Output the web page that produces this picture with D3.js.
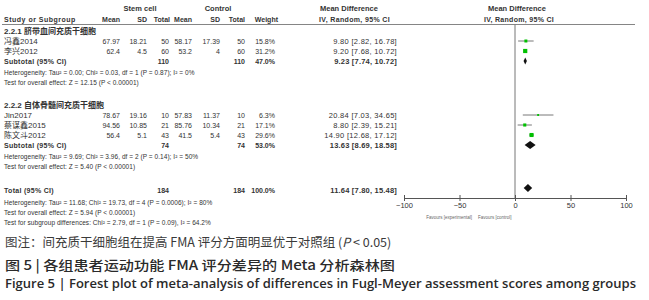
<!DOCTYPE html>
<html>
<head>
<meta charset="utf-8">
<script src="https://cdn.jsdelivr.net/npm/d3@7"></script>
<style>
  body { margin: 0; background: #fff; }
  svg { display: block; }
</style>
</head>
<body>
<svg id="forest" width="649" height="300"></svg>
<script>
// forest plot - FMA scores, stem cell vs control

const studies   = ['冯鑫2014', '李兴2012', 'Jin2017', '蔡谋鑫2015', '陈文斗2012'];
const studyGrp  = [0, 0, 1, 1, 1];
const expMean   = [67.97, 62.4, 78.67, 94.56, 56.4];
const expSD     = [18.21, 4.5, 19.16, 10.85, 5.1];
const expN      = [50, 60, 10, 21, 43];
const ctlMean   = [58.17, 53.2, 57.83, 85.76, 41.5];
const ctlSD     = [17.39, 4, 11.37, 10.34, 5.4];
const ctlN      = [50, 60, 10, 21, 43];
const weights   = [15.8, 31.2, 6.3, 17.1, 29.6];
const md        = [9.80, 9.20, 20.84, 8.80, 14.90];
const mdLo      = [2.82, 7.68, 7.03, 2.39, 12.68];
const mdHi      = [16.78, 10.72, 34.65, 15.21, 17.12];

const subgroups = ['2.2.1 脐带血间充质干细胞', '2.2.2 自体骨髓间充质干细胞'];
const subExpN   = [110, 74];
const subCtlN   = [110, 74];
const subWeight = [47.0, 53.0];
const subMd     = [9.23, 13.63];
const subLo     = [7.74, 8.69];
const subHi     = [10.72, 18.58];
const subHet    = [
  'Heterogeneity: Tau² = 0.00; Chi² = 0.03, df = 1 (P = 0.87); I² = 0%',
  'Heterogeneity: Tau² = 9.69; Chi² = 3.96, df = 2 (P = 0.14); I² = 50%'
];
const subTest   = [
  'Test for overall effect: Z = 12.15 (P < 0.00001)',
  'Test for overall effect: Z = 5.40 (P < 0.00001)'
];

const totalN    = [184, 184];
const totalMd   = [11.64, 7.80, 15.48];
const totalNotes = [
  'Heterogeneity: Tau² = 11.68; Chi² = 19.73, df = 4 (P = 0.0006); I² = 80%',
  'Test for overall effect: Z = 5.94 (P < 0.00001)',
  'Test for subgroup differences: Chi² = 2.79, df = 1 (P = 0.09), I² = 64.2%'
];

const axisTicks = [-100, -50, 0, 50, 100];

const svg = d3.select('#forest');
const txtColor = '#333';
const font = 'Liberation Sans, Arial, sans-serif';

function txt(x, y, s, opts = {}) {
  return svg.append('text')
    .attr('x', x)
    .attr('y', y)
    .attr('font-family', opts.family || font)
    .attr('font-size', opts.size || 7)
    .attr('font-weight', opts.bold ? 'bold' : 'normal')
    .attr('text-anchor', opts.anchor || 'start')
    .attr('fill', opts.color || txtColor)
    .text(s);
}

// column right edges
const col = { name: 4, eMean: 120, eSD: 147, eN: 169, cMean: 192, cSD: 220, cN: 245, w: 275, ci: 397 };

const x = d3.scaleLinear().domain([-100, 100]).range([404, 626]);

// headers
txt(140, 11, 'Stem cell', { bold: true, anchor: 'middle', size: 7.5 });
txt(218, 11, 'Control', { bold: true, anchor: 'middle', size: 7.5 });
txt(320, 11, 'Mean Difference', { bold: true, size: 7.5 });
txt(517, 11, 'Mean Difference', { bold: true, anchor: 'middle', size: 7.5 });

const hy = 22;
const hs = 7;
txt(col.name, hy, 'Study or Subgroup', { bold: true, size: hs }).attr('letter-spacing', 0.5);
txt(col.eMean, hy, 'Mean', { bold: true, anchor: 'end', size: hs });
txt(col.eSD, hy, 'SD', { bold: true, anchor: 'end', size: hs });
txt(170, hy, 'Total', { bold: true, anchor: 'end', size: hs });
txt(col.cMean, hy, 'Mean', { bold: true, anchor: 'end', size: hs });
txt(col.cSD, hy, 'SD', { bold: true, anchor: 'end', size: hs });
txt(col.cN, hy, 'Total', { bold: true, anchor: 'end', size: hs });
txt(278, hy, 'Weight', { bold: true, anchor: 'end', size: hs });
txt(319, hy, 'IV, Random, 95% CI', { bold: true, size: hs }).attr('letter-spacing', 0.35);
txt(519, hy, 'IV, Random, 95% CI', { bold: true, anchor: 'middle', size: hs }).attr('letter-spacing', 0.3);

svg.append('line')
  .attr('x1', 2).attr('x2', 635)
  .attr('y1', 24.5).attr('y2', 24.5)
  .attr('stroke', '#666').attr('stroke-width', 0.8);

// zero line
svg.append('line')
  .attr('x1', x(0)).attr('x2', x(0))
  .attr('y1', 24.5).attr('y2', 198)
  .attr('stroke', '#777').attr('stroke-width', 1);

const fmt2 = d3.format('.2f');
const ciText = (m, l, h) => `${fmt2(m)} [${fmt2(l)}, ${fmt2(h)}]`;

function diamond(yc, m, l, h, hh) {
  svg.append('path')
    .attr('d', `M${x(l)},${yc} L${x(m)},${yc - hh} L${x(h)},${yc} L${x(m)},${yc + hh} Z`)
    .attr('fill', '#111');
}

const groupTop = [31, 105];
const sqK = 0.75;
const cjk = font + ', Noto Sans CJK SC';

subgroups.forEach((g, gi) => {
  let y = groupTop[gi];
  txt(col.name, y + 3, g, { bold: true, family: cjk, size: 8 });
  const idx = studies.map((s, i) => i).filter(i => studyGrp[i] === gi);
  idx.forEach(i => {
    y += 10;
    const b = y + 3;
    txt(col.name, b, studies[i], { family: cjk, size: 8 });
    txt(col.eMean, b, expMean[i], { anchor: 'end' });
    txt(col.eSD, b, expSD[i], { anchor: 'end' });
    txt(col.eN, b, expN[i], { anchor: 'end' });
    txt(col.cMean, b, ctlMean[i], { anchor: 'end' });
    txt(col.cSD, b, ctlSD[i], { anchor: 'end' });
    txt(col.cN, b, ctlN[i], { anchor: 'end' });
    txt(col.w, b, weights[i].toFixed(1) + '%', { anchor: 'end' });
    txt(col.ci, b, ciText(md[i], mdLo[i], mdHi[i]), { anchor: 'end', size: 7.5 }).attr('letter-spacing', 0.3);

    svg.append('line')
      .attr('x1', x(mdLo[i])).attr('x2', x(mdHi[i]))
      .attr('y1', y).attr('y2', y)
      .attr('stroke', '#555').attr('stroke-width', 0.8);
    const s = Math.sqrt(weights[i]) * sqK;
    svg.append('rect')
      .attr('x', x(md[i]) - s / 2).attr('y', y - s / 2)
      .attr('width', s).attr('height', s)
      .attr('fill', '#00c000');
  });
  y += 10;
  const b = y + 3;
  txt(col.name, b, 'Subtotal (95% CI)', { bold: true }).attr('letter-spacing', 0.3);
  txt(col.eN, b, subExpN[gi], { bold: true, anchor: 'end' });
  txt(col.cN, b, subCtlN[gi], { bold: true, anchor: 'end' });
  txt(col.w, b, subWeight[gi].toFixed(1) + '%', { bold: true, anchor: 'end' });
  txt(col.ci, b, ciText(subMd[gi], subLo[gi], subHi[gi]), { bold: true, anchor: 'end', size: 7.5 }).attr('letter-spacing', 0.2);
  diamond(y, subMd[gi], subLo[gi], subHi[gi], gi === 0 ? 3.5 : 4);

  txt(col.name, y + 14, subHet[gi], { size: 6.5 }).attr('letter-spacing', 0.05);
  txt(col.name, y + 24, subTest[gi], { size: 6.5 }).attr('letter-spacing', 0.05);
});

// overall
const ty = 190;
txt(col.name, ty + 3, 'Total (95% CI)', { bold: true }).attr('letter-spacing', 0.3);
txt(col.eN, ty + 3, totalN[0], { bold: true, anchor: 'end' });
txt(col.cN, ty + 3, totalN[1], { bold: true, anchor: 'end' });
txt(col.w, ty + 3, '100.0%', { bold: true, anchor: 'end' });
txt(col.ci, ty + 3, ciText(totalMd[0], totalMd[1], totalMd[2]), { bold: true, anchor: 'end', size: 7.5 }).attr('letter-spacing', 0.2);
diamond(ty - 2, totalMd[0], totalMd[1], totalMd[2], 4);
totalNotes.forEach((t, i) => txt(col.name, ty + 15 + i * 10, t, { size: 6.5 }).attr('letter-spacing', 0.05));

// axis
const axisY = 198;
const gAx = svg.append('g').attr('transform', `translate(0,${axisY})`);
gAx.call(d3.axisBottom(x).tickValues(axisTicks).tickSize(3).tickSizeOuter(0).tickPadding(2).tickFormat(d3.format('d')));
const gAx2 = svg.append('g').attr('transform', `translate(0,${axisY})`);
gAx2.call(d3.axisBottom(x).tickValues(axisTicks).tickSize(-3).tickSizeOuter(0).tickFormat(''));
svg.selectAll('.domain').attr('stroke', '#555');
svg.selectAll('.tick line').attr('stroke', '#555');
gAx.selectAll('text')
  .attr('font-family', font).attr('font-size', 7.5).attr('fill', txtColor);

txt(472, 219, 'Favours [experimental]', { size: 4.5, anchor: 'end', color: '#666' });
txt(478, 219, 'Favours [control]', { size: 4.5, color: '#666' });

// captions
const capFont = 'Noto Sans CJK SC, Noto Sans, sans-serif';
txt(5, 247, '图注：间充质干细胞组在提高 FMA 评分方面明显优于对照组 (', { size: 12.5, family: capFont, color: '#3a3a3a' })
  .append('tspan').attr('font-style', 'italic').text('P')
  .select(function() { return this.parentNode; })
  .append('tspan').text(' < 0.05)');
txt(5, 270, '图 5  |  各组患者运动功能 FMA 评分差异的 Meta 分析森林图', { size: 13, family: capFont, color: '#2a2a2a' })
  .attr('font-weight', 500)
  .attr('textLength', 390)
  .attr('lengthAdjust', 'spacingAndGlyphs');
txt(5, 288, 'Figure 5 | Forest plot of meta-analysis of differences in Fugl-Meyer assessment scores among groups',
    { size: 12.5, family: 'Open Sans, sans-serif', color: '#2a2a2a' })
  .attr('font-weight', 600)
  .attr('textLength', 631)
  .attr('lengthAdjust', 'spacingAndGlyphs');
</script>
</body>
</html>
